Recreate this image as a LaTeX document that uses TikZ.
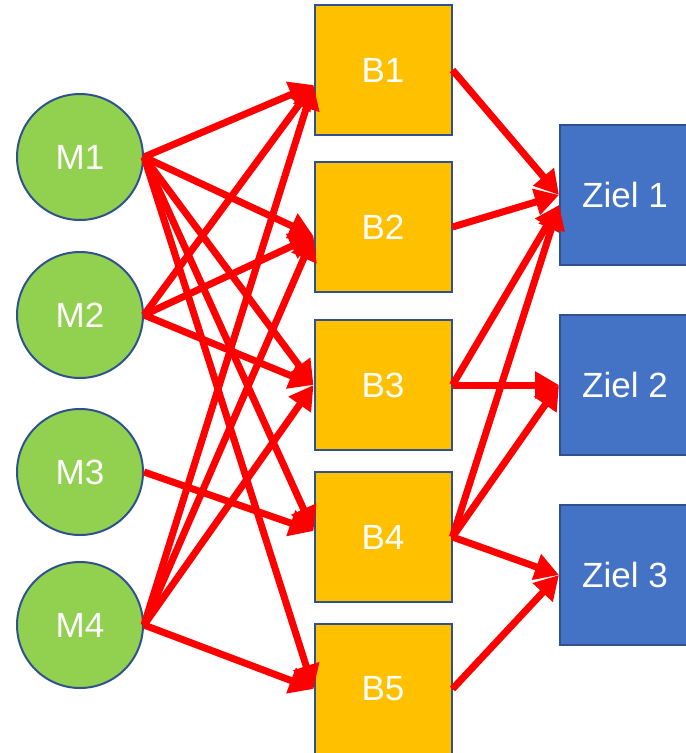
\documentclass[tikz,border=0pt]{standalone}
\usepackage{fontspec}
\setmainfont{Liberation Sans}
\usetikzlibrary{arrows.meta}
\definecolor{mgreen}{HTML}{92D050}
\definecolor{borange}{HTML}{FFC000}
\definecolor{zblue}{HTML}{4472C4}
\definecolor{rim}{HTML}{2F528F}

\begin{document}
\begin{tikzpicture}[x=1pt, y=-1pt]
    \tikzset{every node/.style={text=white, font=\fontsize{35}{40}\selectfont, draw=rim, line width=2pt}}
    \tikzset{machine/.style={circle, fill=mgreen, minimum size=126pt, inner sep=0pt}}
    \tikzset{buffer/.style={rectangle, fill=borange, minimum width=137pt, minimum height=130pt}}
    \tikzset{target/.style={rectangle, fill=zblue, minimum width=130pt, minimum height=140pt}}
    \tikzset{flow/.style={draw=red, line width=7pt, -{Triangle[length=24pt, width=26pt]}}}
    \useasboundingbox (0,0) rectangle (686,753);

    % machines
    \node[machine] (m1) at (80,157) {M1};
    \node[machine] (m2) at (80,315) {M2};
    \node[machine] (m3) at (80,472) {M3};
    \node[machine] (m4) at (80,625) {M4};

    % buffers
    \node[buffer] (b1) at (383,70) {B1};
    \node[buffer] (b2) at (383,227) {B2};
    \node[buffer] (b3) at (383,385) {B3};
    \node[buffer] (b4) at (383,537) {B4};
    \node[buffer] (b5) at (383,689) {B5};

    % targets
    \node[target] (z1) at (625,195) {Ziel 1};
    \node[target] (z2) at (625,385) {Ziel 2};
    \node[target] (z3) at (625,575) {Ziel 3};

    % machine -> buffer
    \draw[flow] (m1.east) -- ([yshift=-15pt]b1.west);
    \draw[flow] (m1.east) -- ([yshift=-9pt]b2.west);
    \draw[flow] (m1.east) -- (b3.west);
    \draw[flow] (m1.east) -- ([yshift=6pt]b4.west);
    \draw[flow] (m1.east) -- (b5.west);
    \draw[flow] (m2.east) -- ([yshift=-15pt]b1.west);
    \draw[flow] (m2.east) -- ([yshift=-9pt]b2.west);
    \draw[flow] (m2.east) -- (b3.west);
    \draw[flow] (m3.east) -- ([yshift=6pt]b4.west);
    \draw[flow] (m4.east) -- ([yshift=-15pt]b1.west);
    \draw[flow] (m4.east) -- ([yshift=-9pt]b2.west);
    \draw[flow] (m4.east) -- (b3.west);
    \draw[flow] (m4.east) -- (b5.west);

    % buffer -> target
    \draw[flow] (b1.east) -- (z1.west);
    \draw[flow] (b2.east) -- (z1.west);
    \draw[flow] (b3.east) -- ([yshift=-10pt]z1.west);
    \draw[flow] (b3.east) -- (z2.west);
    \draw[flow] (b4.east) -- ([yshift=-10pt]z1.west);
    \draw[flow] (b4.east) -- (z2.west);
    \draw[flow] (b4.east) -- (z3.west);
    \draw[flow] (b5.east) -- (z3.west);
\end{tikzpicture}
\end{document}
